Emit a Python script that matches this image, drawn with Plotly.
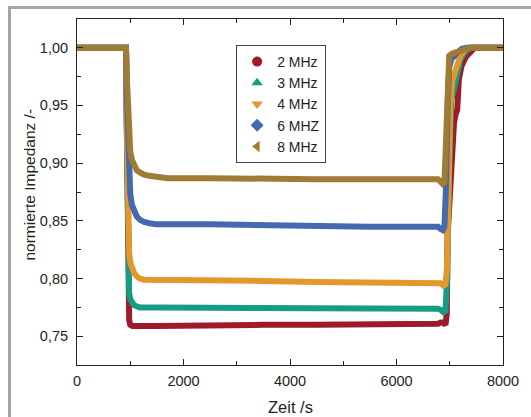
import plotly.graph_objects as go

# Normalised impedance over time for five excitation frequencies
t_2mhz = [0, 920, 935, 950, 965, 980, 1000, 1040, 1500, 2500, 3500, 4500, 5500, 6300,
          6780, 6830, 6870, 6920, 6945, 6960, 7020, 7080, 7110, 7140, 7170, 7220, 7300, 7400, 7470, 8000]
z_2mhz = [1.000, 1.000, 0.930, 0.840, 0.780, 0.764, 0.760, 0.759, 0.759, 0.760, 0.760, 0.760, 0.760, 0.760,
          0.761, 0.762, 0.762, 0.760, 0.770, 0.838, 0.896, 0.935, 0.942, 0.946, 0.972, 0.984, 0.992, 0.997, 1.000, 1.000]

t_3mhz = [0, 920, 935, 950, 965, 980, 1000, 1030, 1070, 1120, 1180, 1500, 2500, 3500, 4500, 5500, 6300,
          6780, 6830, 6880, 6920, 6950, 6990, 7030, 7070, 7110, 7150, 7200, 7280, 7380, 8000]
z_3mhz = [1.000, 1.000, 0.930, 0.850, 0.800, 0.787, 0.782, 0.779, 0.777, 0.776, 0.775, 0.775, 0.775, 0.774, 0.774, 0.774, 0.774,
          0.774, 0.773, 0.771, 0.772, 0.800, 0.900, 0.955, 0.962, 0.970, 0.983, 0.990, 0.996, 1.000, 1.000]

t_4mhz = [0, 920, 935, 950, 965, 980, 1000, 1030, 1070, 1120, 1180, 1260, 1500, 2500, 3500, 4500, 5500, 6300,
          6780, 6830, 6880, 6920, 6950, 6980, 7010, 7050, 7100, 7150, 7200, 7280, 7360, 8000]
z_4mhz = [1.000, 1.000, 0.940, 0.870, 0.835, 0.822, 0.814, 0.809, 0.805, 0.802, 0.800, 0.799, 0.799, 0.798, 0.798, 0.797, 0.797, 0.797,
          0.797, 0.796, 0.794, 0.795, 0.810, 0.880, 0.950, 0.972, 0.978, 0.985, 0.993, 0.998, 1.000, 1.000]

t_6mhz = [0, 920, 935, 950, 965, 980, 1000, 1030, 1070, 1120, 1180, 1260, 1360, 1500, 2500, 3500, 4500, 5500, 6300,
          6780, 6830, 6870, 6900, 6930, 6960, 6990, 7030, 7080, 7150, 7230, 7320, 8000]
z_6mhz = [1.000, 1.000, 0.960, 0.925, 0.900, 0.885, 0.873, 0.864, 0.858, 0.854, 0.851, 0.849, 0.848, 0.847, 0.847, 0.846, 0.846, 0.845, 0.845,
          0.845, 0.843, 0.842, 0.845, 0.880, 0.950, 0.983, 0.990, 0.993, 0.996, 0.999, 1.000, 1.000]

t_8mhz = [0, 920, 935, 950, 965, 980, 1000, 1030, 1070, 1120, 1180, 1260, 1360, 1500, 1700, 2500, 3500, 4500, 5500, 6300,
          6780, 6830, 6870, 6900, 6930, 6960, 6990, 7050, 7120, 7200, 7300, 7400, 8000]
z_8mhz = [1.000, 1.000, 0.975, 0.950, 0.930, 0.918, 0.910, 0.903, 0.898, 0.894, 0.892, 0.890, 0.889, 0.888, 0.887, 0.887, 0.886, 0.886, 0.886, 0.886,
          0.886, 0.884, 0.882, 0.883, 0.920, 0.975, 0.993, 0.995, 0.996, 0.997, 0.998, 1.000, 1.000]

labels = ["2 MHz", "3 MHz", "4 MHz", "6 MHZ", "8 MHz"]
colors = ["#9e1c2a", "#169c85", "#e2982a", "#4569b0", "#a07b33"]
symbols = ["circle", "triangle-up", "triangle-down", "diamond", "triangle-left"]
series = [(t_2mhz, z_2mhz), (t_3mhz, z_3mhz), (t_4mhz, z_4mhz), (t_6mhz, z_6mhz), (t_8mhz, z_8mhz)]

FONT = "Liberation Sans, Arial, Helvetica, sans-serif"
TXT = "#231f20"

fig = go.Figure()
for (t, z), col in zip(series, colors):
    fig.add_trace(go.Scatter(x=t, y=z, mode="lines", line=dict(color=col, width=6),
                             showlegend=False, hoverinfo="skip"))
# legend entries with marker symbols
for lab, col, sym in zip(labels, colors, symbols):
    fig.add_trace(go.Scatter(x=[None], y=[None], mode="markers", name=lab,
                             marker=dict(color=col, symbol=sym, size=10)))

# plot-area geometry in pixels
W, H = 531, 417
L, R, T, B = 77, 508, 19, 365
def px(x):
    return (x - L) / (R - L)
def py(y):
    return (B - y) / (B - T)

axis_common = dict(showline=True, linecolor="#222222", linewidth=1, mirror="ticks",
                   ticks="inside", ticklen=6, tickcolor="#222222", showgrid=False, zeroline=False,
                   tickfont=dict(family=FONT, size=14.5, color=TXT))

fig.update_layout(
    width=W, height=H,
    margin=dict(l=L, r=W - R, t=T, b=H - B),
    paper_bgcolor="white", plot_bgcolor="white",
    separators=", ",
    font=dict(family=FONT, color=TXT),
    xaxis=dict(range=[0, 8000], tickvals=[0, 2000, 4000, 6000, 8000], ticklabelstandoff=3,
               minor=dict(dtick=1000, ticks="inside", ticklen=4, tickcolor="#222222"),
               **axis_common),
    yaxis=dict(range=[0.7252, 1.0248], tickvals=[0.75, 0.80, 0.85, 0.90, 0.95, 1.00], tickformat=".2f",
               ticklabelstandoff=5,
               minor=dict(dtick=0.025, ticks="inside", ticklen=4, tickcolor="#222222"),
               **axis_common),
    legend=dict(x=px(238), y=py(45), xanchor="left", yanchor="top",
                bordercolor="#444444", borderwidth=1, bgcolor="white",
                font=dict(family=FONT, size=14, color=TXT)),
    annotations=[
        dict(text="Zeit /s", x=0.5, y=py(407), xref="paper", yref="paper", showarrow=False,
             xanchor="center", yanchor="middle", font=dict(family=FONT, size=16.5, color=TXT)),
        dict(text="normierte Impedanz /-", x=px(28), y=py(185), xref="paper", yref="paper",
             showarrow=False, textangle=-90, xanchor="center", yanchor="middle",
             font=dict(family=FONT, size=15.5, color=TXT)),
    ],
    shapes=[
        dict(type="rect", xref="paper", yref="paper", x0=px(8.7), x1=px(545), y0=py(7.5), y1=py(440),
             line=dict(color="#a6a6a6", width=3), layer="below"),
    ],
)

fig.write_html("out.html")
